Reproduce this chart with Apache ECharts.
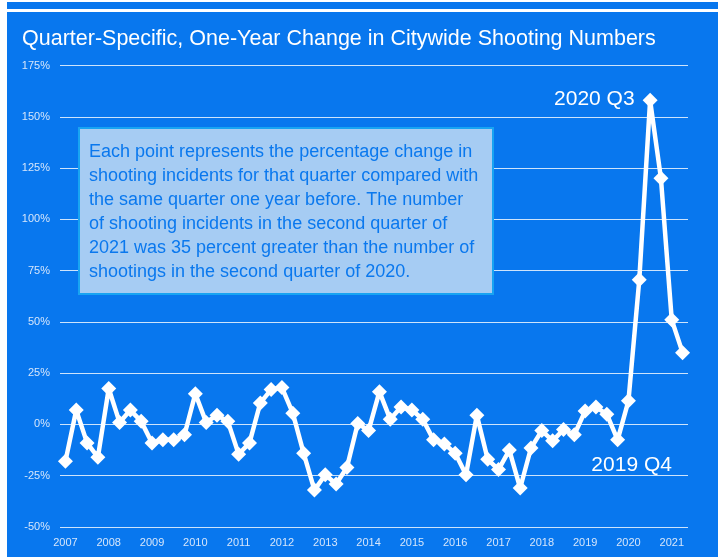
<!DOCTYPE html>
<html>
<head>
<meta charset="utf-8">
<script src="https://cdn.jsdelivr.net/npm/echarts@6/dist/echarts.min.js"></script>
<style>
  html, body { margin: 0; padding: 0; background: #ffffff; }
  #strip { position: absolute; left: 7px; top: 2px; width: 711px; height: 7px; background: #0877ee; }
  #panel { position: absolute; left: 7px; top: 12px; width: 711px; height: 545px; background: #0877ee; }
  #chart { position: absolute; left: 0; top: 0; width: 718px; height: 557px; }
</style>
</head>
<body>
<div id="strip"></div>
<div id="panel"></div>
<div id="chart"></div>
<script>
const years = ['2007','2008','2009','2010','2011','2012','2013','2014','2015','2016','2017','2018','2019','2020','2021'];
const quarters = ['Q1','Q2','Q3','Q4'];
// One-year percent change per quarter, 2007 Q1 .. 2021 Q2
const pctChange = [
  -18, 7, -9, -16,
  17.5, 1, 7, 1.5,
  -9, -7.5, -7.5, -5,
  15, 1, 4.5, 1.5,
  -14.5, -9, 10.5, 17,
  18, 5.5, -14, -32,
  -24.5, -29, -21, 0.5,
  -3, 16, 2.5, 8.5,
  7, 2.5, -7.5, -9.5,
  -14, -24.5, 4.5, -17,
  -22, -12.5, -31, -11.5,
  -3, -8, -2.5, -5,
  6.5, 8.5, 5, -7.5,
  11.5, 70.5, 158, 120,
  51, 35
];
const yTicks = { min: -50, max: 175, interval: 25 };
const titleText = 'Quarter-Specific, One-Year Change in Citywide Shooting Numbers';
const noteText = [
  'Each point represents the percentage change in',
  'shooting incidents for that quarter compared with',
  'the same quarter one year before. The number',
  'of shooting incidents in the second quarter of',
  '2021 was 35 percent greater than the number of',
  'shootings in the second quarter of 2020.'
];

const categories = [];
years.forEach(y => quarters.forEach(q => categories.push(y + ' ' + q)));
categories.length = pctChange.length;

const FONT = '"Liberation Sans", Arial, sans-serif';
const labelColor = '#d6e6fb';

const seriesData = pctChange.map((v, i) => {
  const name = categories[i];
  if (name === '2020 Q3') {
    return { value: v, label: { show: true, position: 'left', distance: 8, offset: [0, -1], formatter: name, color: '#ffffff', fontSize: 21, fontFamily: FONT } };
  }
  if (name === '2019 Q4') {
    return { value: v, label: { show: true, position: 'bottom', distance: 4, offset: [14, 3], formatter: name, color: '#ffffff', fontSize: 21, fontFamily: FONT } };
  }
  return v;
});

const chart = echarts.init(document.getElementById('chart'), null, { renderer: 'canvas' });
chart.setOption({
  backgroundColor: 'transparent',
  animation: false,
  title: {
    text: titleText,
    left: 17, top: 23,
    textStyle: { color: '#ffffff', fontSize: 21.5, fontWeight: 'normal', fontFamily: FONT }
  },
  grid: { left: 60, right: 30, top: 65.5, bottom: 30, containLabel: false },
  xAxis: {
    type: 'category',
    data: categories,
    boundaryGap: true,
    axisLine: { show: false },
    axisTick: { show: false },
    axisLabel: {
      interval: 3,
      margin: 10,
      color: labelColor,
      fontSize: 11,
      fontFamily: FONT,
      formatter: v => v.split(' ')[0]
    },
    splitLine: { show: false }
  },
  yAxis: {
    type: 'value',
    min: yTicks.min, max: yTicks.max, interval: yTicks.interval,
    axisLine: { show: false },
    axisTick: { show: false },
    axisLabel: { formatter: '{value}%', color: labelColor, fontSize: 11, fontFamily: FONT, margin: 10 },
    splitLine: { lineStyle: { color: 'rgba(255,255,255,0.8)', width: 1 } }
  },
  graphic: [{
    type: 'group',
    left: 78, top: 127,
    z: 100,
    children: [
      { type: 'rect', z: 100, shape: { x: 0, y: 0, width: 414, height: 166 },
        style: { fill: '#a6ccf3', stroke: '#18a4f2', lineWidth: 2 } },
      { type: 'text', z: 101, left: 10, top: 12,
        style: { text: noteText.join('\n'), fill: '#0a78ee', fontSize: 18, lineHeight: 24, fontFamily: FONT } }
    ]
  }],
  series: [{
    type: 'line',
    data: seriesData,
    symbol: 'diamond',
    symbolSize: 15,
    showSymbol: true,
    showAllSymbol: true,
    itemStyle: { color: '#ffffff' },
    lineStyle: { color: '#ffffff', width: 4.5 },
    label: { show: false },
    z: 5
  }]
});
</script>
</body>
</html>
